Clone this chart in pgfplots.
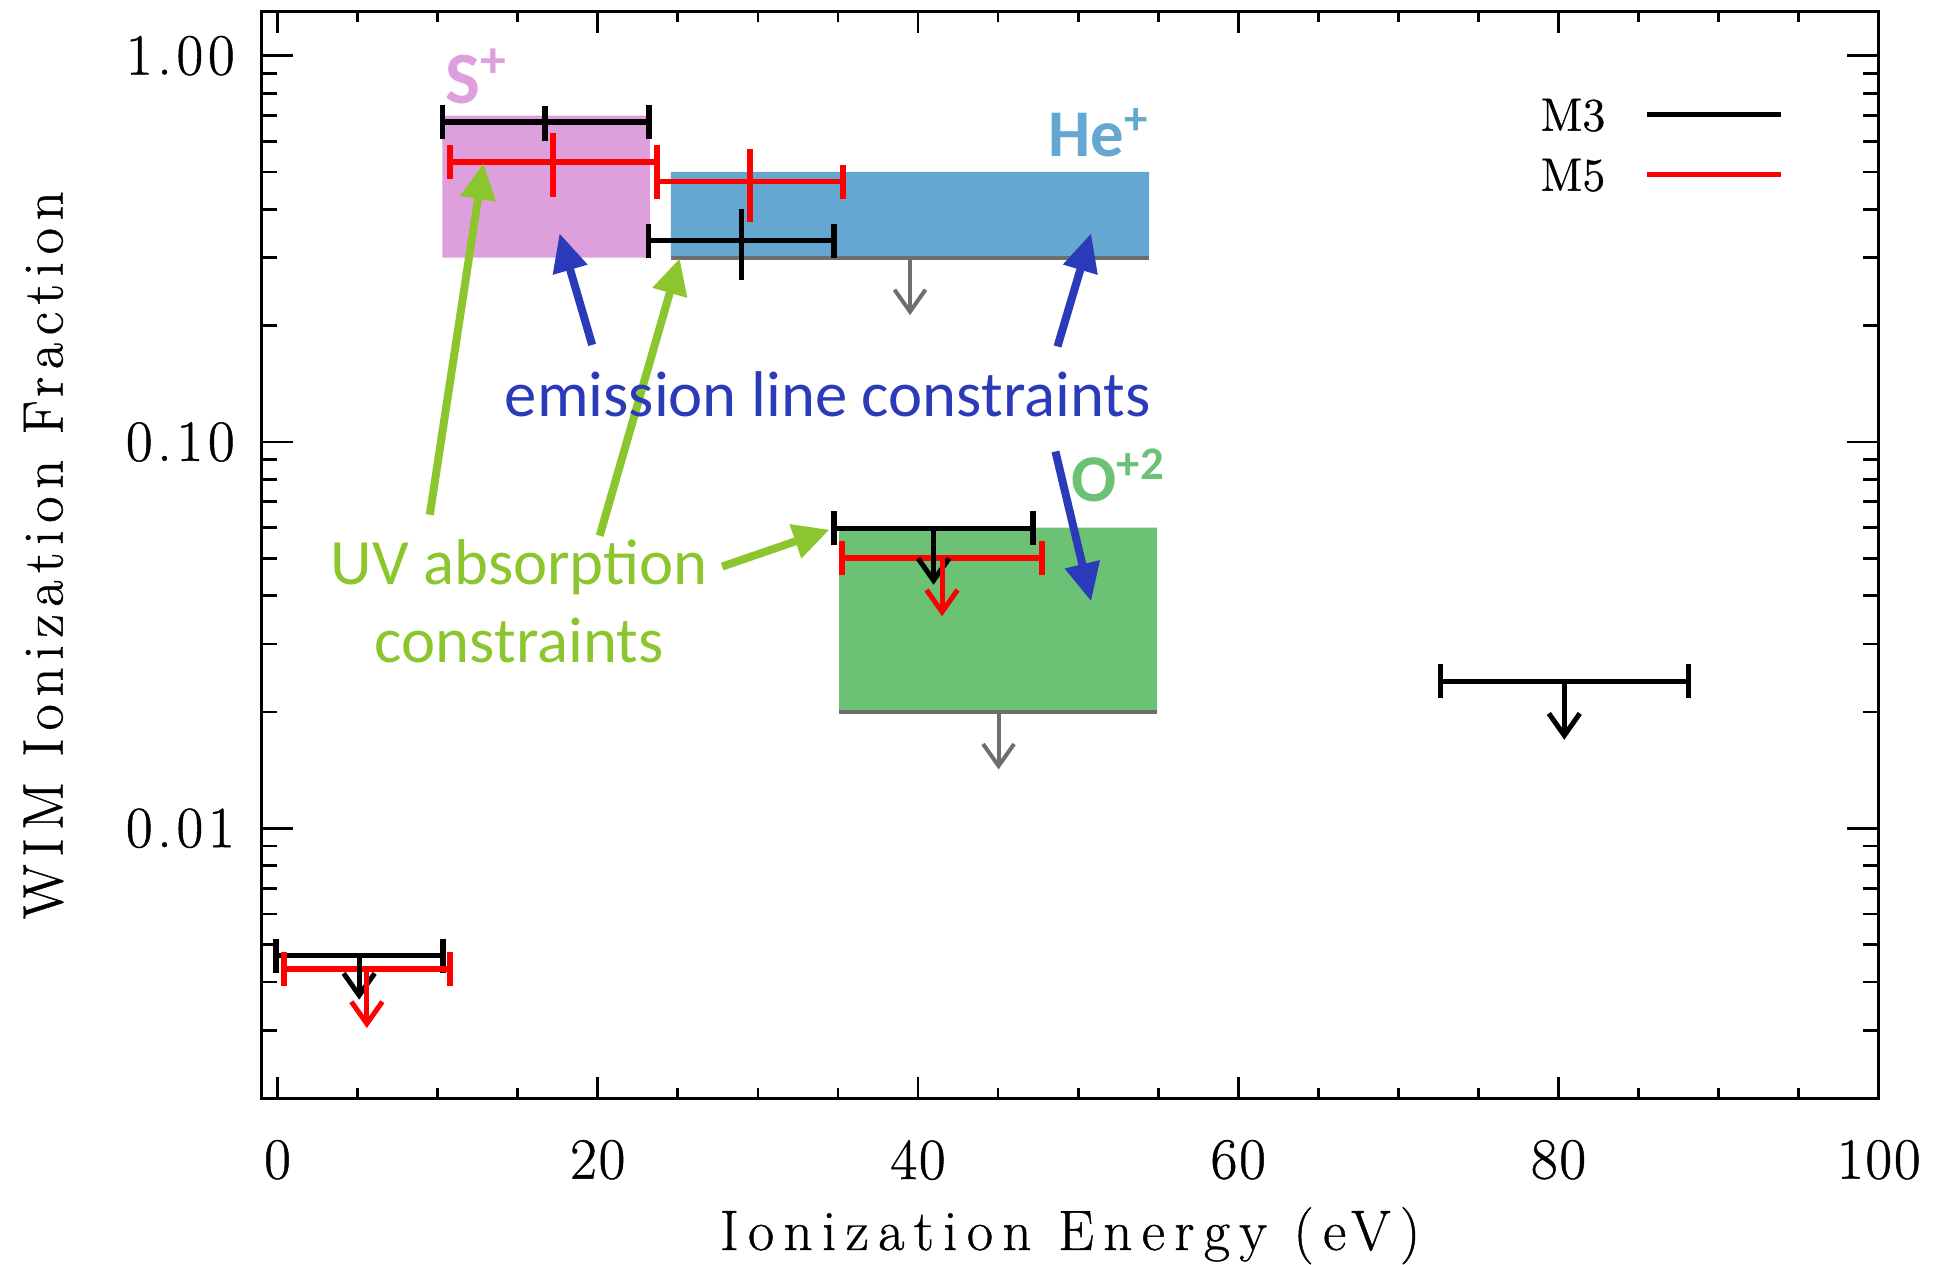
\documentclass[border=0pt]{standalone}
\usepackage{fontspec}
\usepackage{pgfplots}
\pgfplotsset{compat=1.18}
\usetikzlibrary{arrows.meta}
\newfontfamily\carlito{Carlito}
\newfontfamily\xlabfont{Latin Modern Roman}[LetterSpace=16.5,FakeBold=0.8]
\newfontfamily\ylabfont{Latin Modern Roman}[LetterSpace=13.7,FakeBold=0.8]
\newfontfamily\tickfont{Latin Modern Roman}[LetterSpace=8,FakeBold=0.8]
\newfontfamily\xtickfont{Latin Modern Roman}[LetterSpace=3,FakeBold=0.8]
\newfontfamily\legfont{Latin Modern Roman}[FakeBold=0.8]
\definecolor{spink}{RGB}{221,160,221}
\definecolor{heblue}{RGB}{100,168,210}
\definecolor{ogreen}{RGB}{108,194,116}
\definecolor{gline}{RGB}{110,110,110}
\definecolor{emblue}{RGB}{43,58,184}
\definecolor{uvgreen}{RGB}{140,198,46}
\begin{document}
\begin{tikzpicture}
\begin{axis}[
  at={(0,0)}, anchor=south west,
  scale only axis, width=161.73mm, height=108.66mm,
  xmin=-1, xmax=100, ymode=log, ymin=0.002, ymax=1.3,
  xtick={0,20,...,100}, minor x tick num=3,
  ytick={0.01,0.1,1}, yticklabels={0.01,0.10,1.00},
  minor ytick={0.002,0.003,0.004,0.005,0.006,0.007,0.008,0.009,0.02,0.03,0.04,0.05,0.06,0.07,0.08,0.09,0.2,0.3,0.4,0.5,0.6,0.7,0.8,0.9},
  tick align=inside,
  axis line style={line width=0.28mm},
  tick style={black, line width=0.28mm},
  xtick style={/pgfplots/major tick length=2.1mm, /pgfplots/minor tick length=1.0mm},
  ytick style={/pgfplots/major tick length=3.2mm, /pgfplots/minor tick length=1.6mm},
  /pgf/number format/assume math mode=true,
  xticklabel style={font=\xtickfont\fontsize{16.6}{20}\selectfont, inner sep=0pt, anchor=north, yshift=-4.1mm},
  yticklabel style={font=\tickfont\fontsize{16.6}{20}\selectfont, inner sep=0pt, anchor=east, xshift=-2.6mm},
  xlabel={Ionization Energy (eV)},
  ylabel={WIM Ionization Fraction},
  xlabel style={font=\xlabfont\fontsize{16.2}{20}\selectfont, at={(axis description cs:0.5,-0.1396)}, anchor=base, inner sep=0pt},
  ylabel style={font=\ylabfont\fontsize{16.2}{20}\selectfont, at={(axis description cs:-0.1230,0.5)}, anchor=base, rotate=0, inner sep=0pt},
  legend style={draw=none, fill=none, inner sep=0pt, at={(0.9414,0.9210)}, anchor=north east,
    font=\legfont\fontsize{13.3}{15}\selectfont, row sep=2.75mm, column sep=3.9mm,
    nodes={inner sep=0pt, text height=3.25mm, text depth=0pt}},
  legend plot pos=right, legend cell align=right,
  legend image code/.code={\draw[#1] (0mm,0mm) -- (13.4mm,0mm);},
]
% constraint boxes
\addplot[draw=none, fill=spink, forget plot] coordinates {(10.29,0.3) (23.25,0.3) (23.25,0.7) (10.29,0.7) (10.29,0.3)};
\addplot[draw=none, fill=heblue, forget plot] coordinates {(24.56,0.3) (54.43,0.3) (54.43,0.5) (24.56,0.5) (24.56,0.3)};
\addplot[draw=none, fill=ogreen, forget plot] coordinates {(35.08,0.02) (54.93,0.02) (54.93,0.06) (35.08,0.06) (35.08,0.02)};
% gray lower edges and upper-limit arrows
\addplot[gline, line width=0.4mm, forget plot] coordinates {(24.56,0.3) (54.43,0.3)};
\addplot[gline, line width=0.4mm, forget plot] coordinates {(35.08,0.02) (54.93,0.02)};
\addplot[gline, line width=0.4mm, -{Straight Barb[length=2.2mm,width=3.1mm]}, forget plot] coordinates {(39.5,0.3) (39.5,0.213)};
\addplot[gline, line width=0.4mm, -{Straight Barb[length=2.2mm,width=3.1mm]}, forget plot] coordinates {(45.03,0.02) (45.03,0.0142)};
% M3 (black) horizontal bars
\addplot[draw=none, mark=none, forget plot,
  error bars/.cd, x dir=both, x explicit, error mark=|,
  error bar style={black, line width=0.55mm},
  error mark options={black, line width=0.55mm, mark size=1.7mm}]
  coordinates {
  (16.72,0.673) += (6.48,0) -= (6.43,0)
  (28.97,0.332) += (5.78,0) -= (5.80,0)
  (40.97,0.0598) += (6.20,0) -= (6.22,0)
  (80.36,0.024) += (7.74,0) -= (7.74,0)
  (5.10,0.00468) += (5.23,0) -= (5.18,0)
  };
\addplot[draw=none, mark=none, forget plot,
  error bars/.cd, y dir=both, y explicit, error mark=none,
  error bar style={black, line width=0.55mm}]
  coordinates {
  (16.72,0.673) +- (0,0.07)
  (28.97,0.332) +- (0,0.07)
  };
% M5 (red) horizontal bars
\addplot[draw=none, mark=none, forget plot,
  error bars/.cd, x dir=both, x explicit, error mark=|,
  error bar style={red, line width=0.55mm},
  error mark options={red, line width=0.55mm, mark size=1.7mm}]
  coordinates {
  (17.19,0.530) += (6.51,0) -= (6.42,0)
  (29.50,0.472) += (5.81,0) -= (5.80,0)
  (41.50,0.0501) += (6.24,0) -= (6.25,0)
  (5.58,0.00432) += (5.19,0) -= (5.18,0)
  };
\addplot[draw=none, mark=none, forget plot,
  error bars/.cd, y dir=both, y explicit, error mark=none,
  error bar style={red, line width=0.55mm}]
  coordinates {
  (17.19,0.530) +- (0,0.10)
  (29.50,0.472) +- (0,0.10)
  };
% upper-limit arrows
\addplot[black, line width=0.5mm, -{Straight Barb[length=2.2mm,width=3.1mm]}, forget plot] coordinates {(40.97,0.0598) (40.97,0.0427)};
\addplot[black, line width=0.5mm, -{Straight Barb[length=2.2mm,width=3.1mm]}, forget plot] coordinates {(80.36,0.024) (80.36,0.01695)};
\addplot[black, line width=0.5mm, -{Straight Barb[length=2.2mm,width=3.1mm]}, forget plot] coordinates {(5.10,0.00468) (5.10,0.0036)};
\addplot[red, line width=0.5mm, -{Straight Barb[length=2.2mm,width=3.1mm]}, forget plot] coordinates {(41.50,0.0501) (41.50,0.0354)};
\addplot[red, line width=0.5mm, -{Straight Barb[length=2.2mm,width=3.1mm]}, forget plot] coordinates {(5.58,0.00432) (5.58,0.00304)};
% annotation arrows
\addplot[uvgreen, line width=0.8mm, -{Triangle[length=3.6mm,width=3.4mm]}, forget plot] coordinates {(9.51,0.0648) (12.86,0.527)};
\addplot[uvgreen, line width=0.8mm, -{Triangle[length=3.6mm,width=3.4mm]}, forget plot] coordinates {(20.12,0.0572) (25.12,0.299)};
\addplot[uvgreen, line width=0.8mm, -{Triangle[length=3.6mm,width=3.4mm]}, forget plot] coordinates {(27.77,0.0476) (34.47,0.0593)};
\addplot[emblue, line width=0.8mm, -{Triangle[length=3.8mm,width=3.4mm]}, forget plot] coordinates {(19.65,0.1784) (17.61,0.347)};
\addplot[emblue, line width=0.8mm, -{Triangle[length=3.8mm,width=3.4mm]}, forget plot] coordinates {(48.71,0.1767) (50.81,0.347)};
\addplot[emblue, line width=0.8mm, -{Triangle[length=3.8mm,width=3.4mm]}, forget plot] coordinates {(48.58,0.0945) (50.81,0.0387)};
% texts
\node[font=\carlito\fontsize{18.4}{21}\selectfont, text=emblue, anchor=base, inner sep=0pt] at (axis cs:34.36,0.1161) {emission line constraints};
\node[font=\carlito\fontsize{18.4}{21}\selectfont, text=uvgreen, anchor=base, inner sep=0pt] at (axis cs:15.09,0.04279) {UV absorption};
\node[font=\carlito\fontsize{18.4}{21}\selectfont, text=uvgreen, anchor=base, inner sep=0pt] at (axis cs:15.09,0.02689) {constraints};
\node[font=\carlito\bfseries\fontsize{21}{23}\selectfont, text=spink, anchor=base west, inner sep=0pt] at (axis cs:10.46,0.75) {S\textsuperscript{+}};
\node[font=\carlito\bfseries\fontsize{19}{21}\selectfont, text=heblue, anchor=base west, inner sep=0pt] at (axis cs:48.1,0.547) {He\textsuperscript{+}};
\node[font=\carlito\bfseries\fontsize{19}{21}\selectfont, text=ogreen, anchor=base west, inner sep=0pt] at (axis cs:49.55,0.0700) {O\textsuperscript{+2}};
% legend
\addlegendimage{black, line width=0.5mm}
\addlegendentry{M3}
\addlegendimage{red, line width=0.5mm}
\addlegendentry{M5}
\end{axis}
\pgfresetboundingbox
\path[use as bounding box] (-26.15mm,-16.67mm) rectangle (168.35mm,109.83mm);
\end{tikzpicture}
\end{document}
